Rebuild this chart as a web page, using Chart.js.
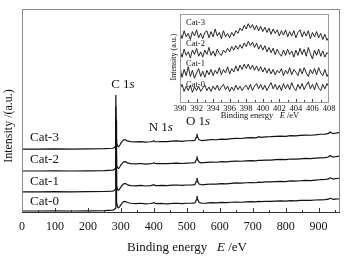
<!DOCTYPE html>
<html>
<head>
<meta charset="utf-8">
<script src="https://cdn.jsdelivr.net/npm/chart.js@4/dist/chart.umd.min.js"></script>
<style>
  html, body { margin: 0; padding: 0; background: #fff; }
  #wrap { position: relative; width: 344px; height: 260px; }
  #main { position: absolute; left: 0; top: 0; }
  #inset { position: absolute; left: 165px; top: 0; }
</style>
</head>
<body>
<div id="wrap">
  <canvas id="main" width="344" height="260"></canvas>
  <canvas id="inset" width="179" height="125"></canvas>
</div>
<script>
// survey spectrum, binding energy (eV)
const energy = [
    0, 50, 100, 150, 200, 250, 275, 280, 283, 284.5,
    285, 285.5, 287, 290, 293, 297, 302, 308, 314, 320,
    330, 345, 360, 375, 390, 397, 400, 403, 410, 425,
    440, 455, 470, 485, 500, 515, 525, 529, 531, 533,
    537, 545, 560, 575, 590, 605, 620, 635, 650, 665,
    680, 695, 710, 718, 725, 740, 755, 770, 785, 800,
    815, 830, 845, 860, 875, 890, 905, 920, 930, 935,
    940, 945, 950, 957, 965
];
const cat0 = [
    0.5, 0.5, 0.6, 0.5, 0.6, 0.7, 0.9, 1.2, 1.8, 20,
    40, 20, 5, 2.4, 2.0, 2.8, 4.0, 5.1, 5.2, 4.7,
    4.3, 4.1, 4.3, 4.0, 4.2, 4.4, 4.7, 4.3, 4.1, 4.2,
    4.0, 4.2, 4.3, 4.1, 4.3, 4.4, 4.5, 6.0, 7.9, 6.2,
    4.8, 4.3, 4.4, 4.6, 4.5, 4.7, 4.6, 4.8, 4.9, 4.8,
    5.0, 5.1, 5.0, 5.2, 5.1, 5.3, 5.2, 5.4, 5.5, 5.4,
    5.6, 5.5, 5.7, 5.8, 5.7, 5.9, 6.0, 6.1, 6.3, 6.8,
    6.5, 6.2, 6.3, 6.4, 6.5
];
const cat1 = [
    9.9, 9.9, 10.0, 9.9, 10.0, 10.1, 10.3, 10.6, 11.2, 28,
    46, 28, 13, 11.0, 10.7, 11.5, 12.8, 13.9, 14.0, 13.4,
    13.0, 12.9, 13.1, 12.8, 13.0, 13.2, 13.5, 13.1, 13.0, 13.1,
    13.0, 13.2, 13.3, 13.1, 13.3, 13.4, 13.5, 15.1, 16.8, 15.2,
    13.8, 13.4, 13.6, 13.8, 13.7, 14.0, 13.9, 14.1, 14.3, 14.2,
    14.4, 14.5, 14.4, 14.7, 14.6, 14.8, 14.8, 15.0, 15.1, 15.0,
    15.3, 15.2, 15.4, 15.6, 15.5, 15.7, 15.9, 16.0, 16.3, 16.9,
    16.5, 16.2, 16.4, 16.5, 16.7
];
const cat2 = [
    20.2, 20.2, 20.3, 20.2, 20.3, 20.4, 20.6, 20.9, 21.5, 36,
    52, 36, 23, 21.8, 21.4, 22.3, 23.6, 24.7, 24.8, 24.2,
    23.8, 23.7, 23.9, 23.6, 23.8, 24.0, 24.3, 23.9, 23.8, 23.9,
    23.8, 24.0, 24.1, 23.9, 24.1, 24.2, 24.3, 25.8, 27.4, 25.9,
    24.6, 24.2, 24.4, 24.6, 24.5, 24.8, 24.7, 24.9, 25.1, 25.0,
    25.2, 25.3, 25.2, 25.5, 25.4, 25.6, 25.6, 25.8, 25.9, 25.8,
    26.1, 26.0, 26.2, 26.4, 26.3, 26.5, 26.7, 26.8, 27.1, 27.8,
    27.3, 27.0, 27.2, 27.4, 27.6
];
const cat3 = [
    31.0, 31.0, 31.1, 31.0, 31.1, 31.2, 31.4, 31.7, 32.3, 45,
    57.6, 45, 34, 32.5, 32.1, 33.0, 34.4, 35.5, 35.6, 35.0,
    34.6, 34.5, 34.7, 34.4, 34.6, 34.8, 35.1, 34.7, 34.6, 34.7,
    34.7, 34.9, 35.0, 34.8, 35.1, 35.2, 35.3, 36.9, 38.5, 37.0,
    35.6, 35.2, 35.4, 35.7, 35.6, 35.9, 35.8, 36.1, 36.3, 36.2,
    36.5, 36.6, 36.5, 37.1, 36.8, 37.0, 37.1, 37.3, 37.4, 37.3,
    37.6, 37.5, 37.7, 37.9, 37.8, 38.0, 38.3, 38.4, 38.7, 39.4,
    38.9, 38.6, 38.8, 39.0, 39.2
];

// N 1s region (inset)
const nEnergy = [
    390, 390.25, 390.5, 390.75, 391, 391.25, 391.5, 391.75,
    392, 392.25, 392.5, 392.75, 393, 393.25, 393.5, 393.75,
    394, 394.25, 394.5, 394.75, 395, 395.25, 395.5, 395.75,
    396, 396.25, 396.5, 396.75, 397, 397.25, 397.5, 397.75,
    398, 398.25, 398.5, 398.75, 399, 399.25, 399.5, 399.75,
    400, 400.25, 400.5, 400.75, 401, 401.25, 401.5, 401.75,
    402, 402.25, 402.5, 402.75, 403, 403.25, 403.5, 403.75,
    404, 404.25, 404.5, 404.75, 405, 405.25, 405.5, 405.75,
    406, 406.25, 406.5, 406.75, 407, 407.25, 407.5, 407.75,
    408
];
const nCat0 = [
    15, 20, 12, 18, 13, 19, 11, 17,
    13, 18, 12, 16, 19, 13, 17, 12,
    18, 14, 19, 13, 17, 20, 14, 18,
    12, 17, 13, 19, 14, 18, 13, 17,
    19, 14, 20, 13, 18, 21, 15, 20,
    14, 19, 13, 18, 22, 15, 20, 14,
    19, 13, 21, 15, 20, 14, 22, 16,
    13, 20, 15, 21, 14, 19, 23, 15,
    20, 14, 22, 16, 13, 20, 15, 21,
    17
];
const nCat1 = [
    39, 28, 37, 30, 40, 29, 36, 27,
    33, 38, 29, 35, 28, 36, 31, 37,
    30, 36, 32, 39, 31, 37, 33, 40,
    32, 38, 34, 41, 35, 42, 37, 43,
    38, 43, 37, 42, 36, 41, 35, 40,
    34, 39, 33, 38, 32, 37, 31, 36,
    33, 38, 30, 36, 32, 39, 31, 37,
    34, 30, 38, 32, 39, 33, 29, 37,
    32, 38, 31, 39, 33, 30, 37, 29,
    33
];
const nCat2 = [
    58, 51, 60, 53, 57, 50, 59, 54,
    61, 52, 57, 51, 59, 54, 62, 53,
    58, 52, 60, 55, 53, 59, 56, 61,
    57, 63, 59, 64, 60, 65, 61, 67,
    63, 69, 64, 68, 62, 67, 60, 65,
    59, 64, 57, 62, 56, 61, 54, 60,
    55, 52, 59, 53, 60, 54, 58, 51,
    59, 53, 61, 54, 60, 52, 62, 55,
    49, 59, 53, 60, 52, 58, 51, 56,
    54
];
const nCat3 = [
    79, 72, 81, 74, 78, 71, 80, 75,
    82, 73, 78, 72, 79, 81, 73, 80,
    74, 83, 75, 79, 72, 81, 74, 78,
    73, 79, 75, 81, 78, 84, 81, 87,
    83, 89, 84, 88, 82, 87, 81, 86,
    80, 85, 79, 84, 77, 83, 78, 82,
    75, 81, 76, 82, 74, 80, 75, 81,
    73, 79, 82, 74, 80, 75, 81, 72,
    79, 74, 80, 73, 78, 71, 77, 70,
    74
];

const seriesNames = ['Cat-0', 'Cat-1', 'Cat-2', 'Cat-3'];
const serif = 'Liberation Serif';

function pts(xs, ys) {
    return xs.map(function (x, i) { return { x: x, y: ys[i] }; });
}

function lineSet(name, xs, ys, w) {
    return {
        label: name,
        data: pts(xs, ys),
        borderColor: '#111',
        borderWidth: w,
        borderJoinStyle: 'bevel',
        pointRadius: 0,
        tension: 0,
        fill: false
    };
}

// text with some italic pieces, e.g. [['C 1'], ['s', true]]
function richText(ctx, parts, x, y, size, align) {
    let total = 0;
    parts.forEach(function (p) {
        ctx.font = (p[1] ? 'italic ' : '') + size + 'px "' + serif + '"';
        total += ctx.measureText(p[0]).width;
    });
    let cx = align === 'center' ? x - total / 2 : x;
    ctx.textAlign = 'left';
    ctx.textBaseline = 'middle';
    parts.forEach(function (p) {
        ctx.font = (p[1] ? 'italic ' : '') + size + 'px "' + serif + '"';
        ctx.fillText(p[0], cx, y);
        cx += ctx.measureText(p[0]).width;
    });
}

const mainDeco = {
    id: 'mainDeco',
    afterDraw: function (chart) {
        const ctx = chart.ctx;
        const a = chart.chartArea;
        const xs = chart.scales.x;
        ctx.save();
        // frame
        ctx.strokeStyle = '#8c8c8c';
        ctx.lineWidth = 1;
        ctx.strokeRect(a.left + 0.5, a.top + 0.5, a.right - a.left - 1, a.bottom - a.top);
        ctx.strokeStyle = '#333';
        ctx.beginPath();
        ctx.moveTo(a.left, a.bottom + 0.5);
        ctx.lineTo(a.right, a.bottom + 0.5);
        ctx.stroke();
        // inward ticks
        for (let v = 50; v < 965; v += 50) {
            const px = Math.round(xs.getPixelForValue(v)) + 0.5;
            const len = v % 100 === 0 ? 4 : 2;
            ctx.beginPath();
            ctx.moveTo(px, a.bottom);
            ctx.lineTo(px, a.bottom - len);
            ctx.stroke();
        }
        ctx.fillStyle = '#111';
        // y title
        ctx.save();
        ctx.translate(9, 126);
        ctx.rotate(-Math.PI / 2);
        richText(ctx, [['Intensity /(a.u.)']], 0, 0, 12, 'center');
        ctx.restore();
        // x title
        richText(ctx, [['Binding energy   '], ['E', true], [' /eV']], 187, 248, 13, 'center');
        // series labels
        const labelY = [202, 182, 160, 138];
        seriesNames.forEach(function (n, i) {
            richText(ctx, [[n]], 30, labelY[i], 13, 'left');
        });
        // peak labels
        richText(ctx, [['C 1'], ['s', true]], xs.getPixelForValue(285) + 7, 85, 13, 'center');
        richText(ctx, [['N 1'], ['s', true]], xs.getPixelForValue(400) + 7, 128, 13, 'center');
        richText(ctx, [['O 1'], ['s', true]], xs.getPixelForValue(531) + 1, 122, 13, 'center');
        ctx.restore();
    }
};

new Chart(document.getElementById('main'), {
    type: 'line',
    data: {
        datasets: [
            lineSet('Cat-0', energy, cat0, 1.2),
            lineSet('Cat-1', energy, cat1, 1.2),
            lineSet('Cat-2', energy, cat2, 1.2),
            lineSet('Cat-3', energy, cat3, 1.2)
        ]
    },
    options: {
        responsive: false,
        animation: false,
        devicePixelRatio: 1,
        layout: { padding: { left: 22, right: 4, top: 9, bottom: 0 } },
        plugins: { legend: { display: false }, tooltip: { enabled: false } },
        scales: {
            x: {
                type: 'linear',
                min: 0,
                max: 965,
                grid: { display: false, drawTicks: false },
                border: { display: false },
                ticks: {
                    stepSize: 100,
                    includeBounds: false,
                    padding: 8,
                    maxRotation: 0,
                    color: '#111',
                    font: { family: serif, size: 12 }
                },
                afterFit: function (s) { s.height = 48; }
            },
            y: { display: false, min: 0, max: 100 }
        }
    },
    plugins: [mainDeco]
});

const insetDeco = {
    id: 'insetDeco',
    afterDraw: function (chart) {
        const ctx = chart.ctx;
        const a = chart.chartArea;
        const xs = chart.scales.x;
        ctx.save();
        ctx.strokeStyle = '#9a9a9a';
        ctx.lineWidth = 1;
        ctx.strokeRect(a.left + 0.5, a.top + 0.5, a.right - a.left - 1, a.bottom - a.top);
        ctx.strokeStyle = '#444';
        for (let v = 391; v < 408; v += 1) {
            const px = Math.round(xs.getPixelForValue(v)) + 0.5;
            const len = v % 2 === 0 ? 3 : 2;
            ctx.beginPath();
            ctx.moveTo(px, a.bottom);
            ctx.lineTo(px, a.bottom - len);
            ctx.stroke();
        }
        ctx.fillStyle = '#111';
        ctx.save();
        ctx.translate(9, 57);
        ctx.rotate(-Math.PI / 2);
        richText(ctx, [['Intensity (a.u.)']], 0, 0, 8, 'center');
        ctx.restore();
        richText(ctx, [['Binding energy   '], ['E', true], [' /eV']], 95, 116, 8.5, 'center');
        const labelY = [85, 64, 44, 23];
        seriesNames.forEach(function (n, i) {
            richText(ctx, [[n]], 21, labelY[i], 8.5, 'left');
        });
        ctx.restore();
    }
};

new Chart(document.getElementById('inset'), {
    type: 'line',
    data: {
        datasets: [
            lineSet('Cat-0', nEnergy, nCat0, 0.9),
            lineSet('Cat-1', nEnergy, nCat1, 0.9),
            lineSet('Cat-2', nEnergy, nCat2, 0.9),
            lineSet('Cat-3', nEnergy, nCat3, 0.9)
        ]
    },
    options: {
        responsive: false,
        animation: false,
        devicePixelRatio: 1,
        layout: { padding: { left: 15, right: 15, top: 14, bottom: 0 } },
        plugins: { legend: { display: false }, tooltip: { enabled: false } },
        scales: {
            x: {
                type: 'linear',
                min: 390,
                max: 408,
                grid: { display: false, drawTicks: false },
                border: { display: false },
                ticks: {
                    stepSize: 2,
                    padding: 2,
                    maxRotation: 0,
                    autoSkip: false,
                    color: '#111',
                    font: { family: serif, size: 8.5 }
                },
                afterFit: function (s) { s.height = 23; }
            },
            y: { display: false, min: 0, max: 100 }
        }
    },
    plugins: [insetDeco]
});
</script>
</body>
</html>
